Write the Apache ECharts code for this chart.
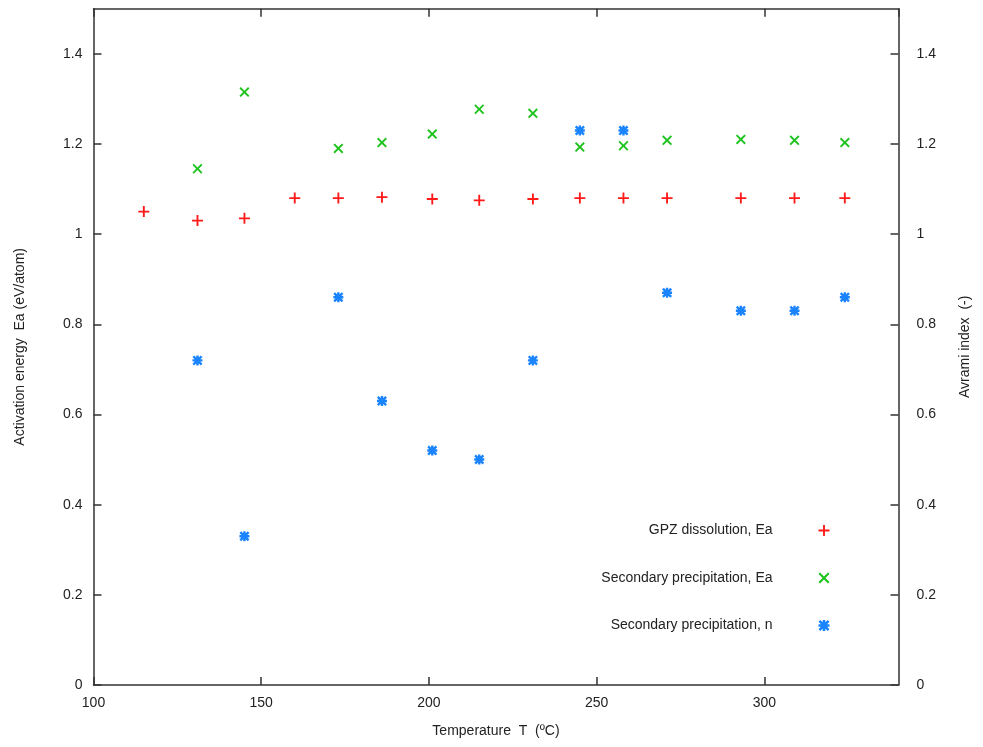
<!DOCTYPE html>
<html>
<head>
<meta charset="utf-8">
<script src="https://cdn.jsdelivr.net/npm/echarts@6/dist/echarts.min.js"></script>
<style>
html,body{margin:0;padding:0;background:#fff;}
#chart{width:983px;height:747px;}
</style>
</head>
<body>
<div id="chart"></div>
<script>
// Data
var gpzTemps = [115, 131, 145, 160, 173, 186, 201, 215, 231, 245, 258, 271, 293, 309, 324];
var gpzEa    = [1.05, 1.03, 1.035, 1.08, 1.08, 1.082, 1.078, 1.075, 1.078, 1.08, 1.08, 1.08, 1.08, 1.08, 1.08];

var secTemps = [131, 145, 173, 186, 201, 215, 231, 245, 258, 271, 293, 309, 324];
var secEa    = [1.145, 1.315, 1.19, 1.203, 1.222, 1.277, 1.268, 1.193, 1.196, 1.208, 1.21, 1.208, 1.203];
var secN     = [0.72, 0.33, 0.86, 0.63, 0.52, 0.50, 0.72, 1.23, 1.23, 0.87, 0.83, 0.83, 0.86];

var seriesNames = ['GPZ dissolution, Ea', 'Secondary precipitation, Ea', 'Secondary precipitation, n'];
var xTitle = 'Temperature  T  (\u00baC)';
var yLeftTitle = 'Activation energy  Ea (eV/atom)';
var yRightTitle = 'Avrami index  (-)';

function pairs(xs, ys) { return xs.map(function (x, i) { return [x, ys[i]]; }); }

function plusPath(h) {
  var a = 5 - h, b = 5 + h;
  return 'M' + a + ',0H' + b + 'V' + a + 'H10V' + b + 'H' + b + 'V10H' + a + 'V' + b + 'H0V' + a + 'H' + a + 'Z';
}
function xPath(d) {
  return 'M' + d + ',0L5,' + (5 - d) + 'L' + (10 - d) + ',0L10,' + d + 'L' + (5 + d) + ',5L10,' + (10 - d) +
    'L' + (10 - d) + ',10L5,' + (5 + d) + 'L' + d + ',10L0,' + (10 - d) + 'L' + (5 - d) + ',5L0,' + d + 'Z';
}
var PLUS = 'path://' + plusPath(0.85);
var XPATH = 'path://' + xPath(1.35);
var STAR = 'path://' + plusPath(1.2) + xPath(1.7);

var colors = ['#ff1a1a', '#1ec31e', '#1a84ff'];
var symbols = [PLUS, XPATH, STAR];
var FONT = 'Liberation Sans, Arial, sans-serif';
var axisLineStyle = { color: '#333', width: 1.5 };
var labelStyle = { color: '#222', fontSize: 14, fontFamily: FONT };

var chart = echarts.init(document.getElementById('chart'), null, { renderer: 'canvas' });

var legendTops = [523.5, 571, 618.5];
var legends = seriesNames.map(function (n, i) {
  return {
    data: [{ name: n, icon: symbols[i], itemStyle: { color: colors[i] } }],
    right: 153.5, top: legendTops[i], padding: 0,
    orient: 'vertical', align: 'right',
    itemWidth: 11, itemHeight: 11,
    selectedMode: false,
    textStyle: { color: '#222', fontSize: 14, fontFamily: FONT, padding: [0, 41, 0, 0] }
  };
});

chart.setOption({
  animation: false,
  backgroundColor: '#fff',
  color: colors,
  legend: legends,
  grid: { left: 93.5, right: 84.5, top: 8.7, bottom: 62, containLabel: false },
  xAxis: [{
    type: 'value', min: 100, max: 340, interval: 50, position: 'bottom',
    name: xTitle, nameLocation: 'middle', nameGap: 39,
    nameTextStyle: { color: '#222', fontSize: 14, fontFamily: FONT },
    axisLine: { show: true, onZero: false, lineStyle: axisLineStyle },
    axisTick: { show: true, inside: true, length: 8, lineStyle: axisLineStyle },
    axisLabel: Object.assign({ margin: 11, showMaxLabel: false }, labelStyle),
    splitLine: { show: false }
  }, {
    type: 'value', min: 100, max: 340, interval: 50, position: 'top',
    axisLine: { show: true, onZero: false, lineStyle: axisLineStyle },
    axisTick: { show: true, inside: true, length: 8, lineStyle: axisLineStyle },
    axisLabel: { show: false },
    splitLine: { show: false }
  }],
  yAxis: [{
    type: 'value', min: 0, max: 1.5, interval: 0.2, position: 'left',
    name: yLeftTitle, nameLocation: 'middle', nameGap: 66, nameRotate: 90,
    nameTextStyle: { color: '#222', fontSize: 14, fontFamily: FONT },
    axisLine: { show: true, onZero: false, lineStyle: axisLineStyle },
    axisTick: { show: true, inside: true, length: 8, lineStyle: axisLineStyle },
    axisLabel: Object.assign({ margin: 11, showMaxLabel: false }, labelStyle),
    splitLine: { show: false }
  }, {
    type: 'value', min: 0, max: 1.5, interval: 0.2, position: 'right',
    name: yRightTitle, nameLocation: 'middle', nameGap: 60, nameRotate: 90,
    nameTextStyle: { color: '#222', fontSize: 14, fontFamily: FONT },
    axisLine: { show: true, onZero: false, lineStyle: axisLineStyle },
    axisTick: { show: true, inside: true, length: 8, lineStyle: axisLineStyle },
    axisLabel: Object.assign({ margin: 18, showMaxLabel: false }, labelStyle),
    splitLine: { show: false }
  }],
  series: [{
    name: seriesNames[0], type: 'scatter', xAxisIndex: 0, yAxisIndex: 0,
    symbol: PLUS, symbolSize: 11, itemStyle: { color: colors[0], opacity: 1 },
    data: pairs(gpzTemps, gpzEa)
  }, {
    name: seriesNames[1], type: 'scatter', xAxisIndex: 0, yAxisIndex: 0,
    symbol: XPATH, symbolSize: 10, itemStyle: { color: colors[1], opacity: 1 },
    data: pairs(secTemps, secEa)
  }, {
    name: seriesNames[2], type: 'scatter', xAxisIndex: 0, yAxisIndex: 1,
    symbol: STAR, symbolSize: 10, itemStyle: { color: colors[2], opacity: 1 },
    data: pairs(secTemps, secN)
  }]
});
</script>
</body>
</html>
